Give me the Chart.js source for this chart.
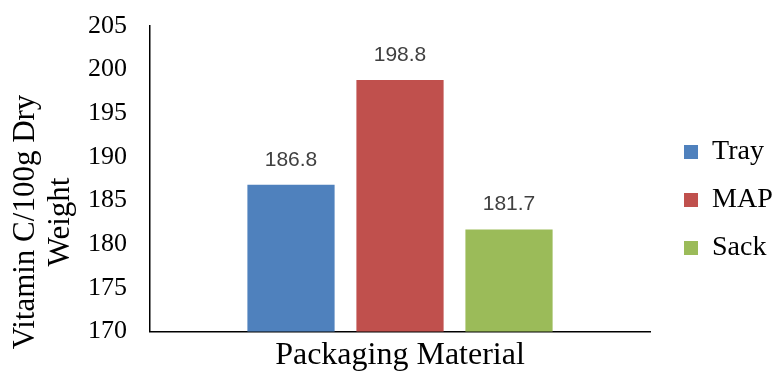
<!DOCTYPE html>
<html>
<head>
<meta charset="utf-8">
<title>Vitamin C by packaging</title>
<script src="https://cdn.jsdelivr.net/npm/chart.js@4.4.0/dist/chart.umd.min.js"></script>
<style>
   html, body { margin: 0; padding: 0; background: #fff; }
   #wrap { width: 776px; height: 372px; }
</style>
</head>
<body>
<div id="wrap"><canvas id="myChart"></canvas></div>
<script>
// Chart data
const categories = ["Packaging Material"];
const seriesNames = ["Tray", "MAP", "Sack"];
const seriesValues = [186.8, 198.8, 181.7];
const seriesColors = ["#4f81bd", "#c0504d", "#9bbb59"];
const yMin = 170, yMax = 205, yStep = 5;
const yTitleLines = ["Vitamin C/100g Dry", "Weight"];

const serif = "'Liberation Serif', 'Times New Roman', serif";

// value labels above each bar
const barLabels = {
   id: "barLabels",
   afterDatasetsDraw(chart) {
      const ctx = chart.ctx;
      ctx.save();
      ctx.font = "21px 'Liberation Sans', Arial, sans-serif";
      ctx.fillStyle = "#404040";
      ctx.textAlign = "center";
      ctx.textBaseline = "middle";
      chart.data.datasets.forEach((ds, i) => {
         chart.getDatasetMeta(i).data.forEach((bar, j) => {
            ctx.fillText(ds.data[j].toFixed(1), bar.x, bar.y - 25);
         });
      });
      ctx.restore();
   }
};

// two-line rotated y axis title
const yTitle = {
   id: "yTitle",
   afterDraw(chart) {
      const ctx = chart.ctx;
      ctx.save();
      ctx.translate(0, 222);
      ctx.rotate(-Math.PI / 2);
      ctx.font = "31px " + serif;
      ctx.fillStyle = "#000";
      ctx.textAlign = "center";
      ctx.textBaseline = "middle";
      yTitleLines.forEach((line, i) => {
         ctx.fillText(line, 0, 26 + i * 35);
      });
      ctx.restore();
   }
};

// nudge the legend a bit further right and down
const legendShift = {
   id: "legendShift",
   afterLayout(chart) {
      const lg = chart.legend;
      lg.left += 14; lg.right += 14;
      lg.top += 1; lg.bottom += 1;
   }
};

let ctx = document.getElementById("myChart").getContext("2d");
let newChart = new Chart(ctx, {
   type: "bar",
   data: {
      labels: categories,
      datasets: seriesNames.map((name, i) => ({
         label: name,
         data: [seriesValues[i]],
         backgroundColor: seriesColors[i],
         borderWidth: 0,
         categoryPercentage: 0.654,
         barPercentage: 0.8
      }))
   },
   options: {
      responsive: true,
      maintainAspectRatio: false,
      animation: false,
      layout: { padding: { top: 26, right: 7.3, bottom: 0, left: 0 } },
      scales: {
         x: {
            grid: { display: false },
            border: { color: "#000", width: 1.5 },
            ticks: { display: false },
            title: {
               display: true,
               text: categories[0],
               color: "#000",
               font: { family: serif, size: 32, lineHeight: 1 },
               padding: { top: 0, bottom: 0 }
            },
            afterFit: s => { s.height = 40.5; }
         },
         y: {
            min: yMin,
            max: yMax,
            grid: { display: false },
            border: { color: "#000", width: 1.5 },
            ticks: {
               stepSize: yStep,
               color: "#000",
               padding: 15,
               font: { family: serif, size: 26 }
            },
            afterFit: s => {
               s.width = 150;
               s.paddingTop = 0;
               s.paddingBottom = 0;
            }
         }
      },
      plugins: {
         legend: {
            position: "right",
            labels: {
               color: "#000",
               boxWidth: 14,
               boxHeight: 14,
               padding: 20,
               font: { family: serif, size: 28 }
            }
         },
         tooltip: { enabled: false }
      }
   },
   plugins: [barLabels, yTitle, legendShift]
});
</script>
</body>
</html>
